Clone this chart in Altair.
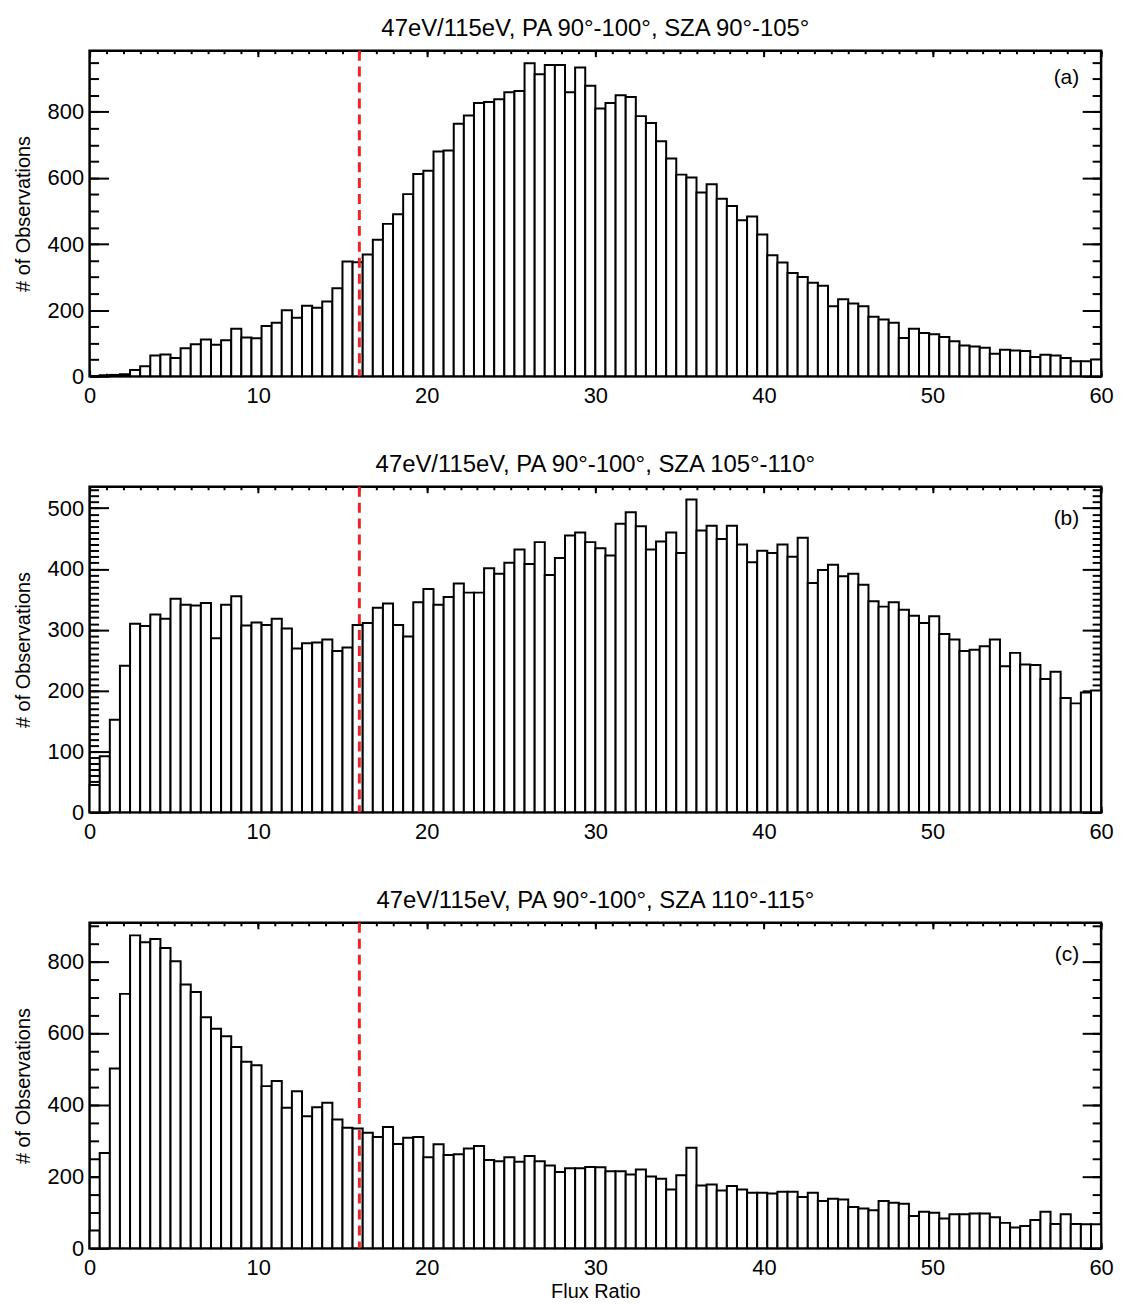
import altair as alt
import numpy as np
import pandas as pd

# ---------------- data ----------------
BIN_WIDTH = 0.6
N_BINS = 100
THRESHOLD = [16]

counts_a = [0, 3, 4, 6, 19, 30, 63, 66, 55, 85,
            97, 111, 95, 109, 144, 117, 115, 152, 162, 200,
            177, 213, 207, 226, 266, 347, 345, 368, 413, 461,
            490, 551, 612, 622, 680, 683, 764, 789, 827, 830,
            838, 859, 863, 947, 914, 942, 942, 859, 934, 879,
            810, 827, 850, 845, 787, 766, 711, 659, 610, 601,
            556, 581, 537, 515, 472, 483, 429, 366, 344, 312,
            300, 283, 274, 212, 233, 220, 212, 180, 172, 162,
            116, 144, 131, 127, 119, 106, 93, 90, 86, 68,
            80, 78, 76, 58, 65, 63, 55, 45, 45, 51]

counts_b = [45, 92, 152, 241, 310, 306, 325, 318, 351, 341,
            340, 344, 286, 341, 355, 307, 312, 308, 318, 302,
            269, 278, 279, 284, 265, 271, 308, 311, 336, 343,
            308, 289, 345, 367, 341, 354, 376, 361, 361, 401,
            392, 410, 432, 408, 444, 390, 418, 455, 460, 444,
            434, 422, 474, 493, 470, 432, 445, 460, 426, 514,
            463, 471, 449, 471, 440, 411, 430, 426, 440, 420,
            451, 377, 398, 407, 388, 392, 374, 347, 338, 345,
            333, 323, 311, 322, 293, 284, 265, 267, 273, 284,
            240, 262, 243, 242, 219, 231, 188, 179, 197, 200]

counts_c = [50, 266, 501, 709, 872, 853, 862, 837, 800, 735,
            714, 644, 612, 591, 561, 520, 510, 452, 466, 392,
            438, 368, 393, 406, 359, 336, 334, 322, 310, 338,
            291, 308, 310, 254, 290, 260, 262, 278, 285, 246,
            243, 254, 241, 257, 243, 231, 213, 223, 223, 227,
            226, 215, 215, 206, 220, 200, 194, 164, 204, 280,
            175, 178, 161, 174, 164, 155, 155, 153, 158, 158,
            143, 155, 132, 138, 136, 115, 111, 106, 132, 127,
            124, 90, 102, 99, 83, 95, 95, 97, 97, 87,
            71, 58, 62, 79, 102, 68, 95, 68, 67, 67]

titles = ["47eV/115eV, PA 90°-100°, SZA 90°-105°",
          "47eV/115eV, PA 90°-100°, SZA 105°-110°",
          "47eV/115eV, PA 90°-100°, SZA 110°-115°"]
panel_labels = ["(a)", "(b)", "(c)"]
y_max = [985, 535, 907]
y_major = [[0, 200, 400, 600, 800],
           [0, 100, 200, 300, 400, 500],
           [0, 200, 400, 600, 800]]
y_minor_step = [50, 10, 50]
x_major = list(range(0, 61, 10))
x_minor = list(range(0, 61, 1))

# ---------------- styling ----------------
FONT = "Liberation Sans"
W, H = 1016, 327
Y_MAJ, Y_MIN, X_MAJ, X_MIN = 19, 9, 6, 3
label_y_pos = [27, 32, 32]


def tick_axis(orient, values, size, **kw):
    base = dict(orient=orient, values=values, tickSize=size, offset=-size,
                domain=False, grid=False, tickColor="black", tickWidth=2)
    if "labels" not in kw:
        base["labels"] = False
        base["title"] = None
    base.update(kw)
    return alt.Axis(**base)


def panel(counts, title, label, ymax, ymaj, ystep, label_y, show_xtitle):
    idx = np.arange(N_BINS)
    df = pd.DataFrame({"start": idx * BIN_WIDTH,
                       "end": (idx + 1) * BIN_WIDTH,
                       "count": counts})
    xs = alt.Scale(domain=[0, 60], nice=False, zero=False)
    ys = alt.Scale(domain=[0, ymax], nice=False)
    yminor = list(range(0, int(ymax) + 1, ystep))

    lab_kw = dict(labels=True, labelFont=FONT, labelFontSize=22,
                  labelColor="black", labelFlush=False)
    x_axis_main = tick_axis("bottom", x_major, X_MAJ, labelPadding=9,
                            title="Flux Ratio" if show_xtitle else None,
                            titleFont=FONT, titleFontSize=20,
                            titleFontWeight="normal", titleColor="black",
                            titlePadding=3, **lab_kw)
    y_axis_main = tick_axis("left", ymaj, Y_MAJ, labelPadding=6,
                            title="# of Observations", titleFont=FONT,
                            titleFontSize=20, titleFontWeight="normal",
                            titleColor="black", titlePadding=14, **lab_kw)

    bars = alt.Chart(df).mark_rect(fill="white", stroke="black",
                                   strokeWidth=2).encode(
        x=alt.X("start:Q", scale=xs, axis=x_axis_main),
        x2="end:Q",
        y=alt.Y("count:Q", scale=ys, axis=y_axis_main),
        y2=alt.datum(0),
    )

    def helper(xax, yax):
        return alt.Chart(df).mark_rect(opacity=0).encode(
            x=alt.X("start:Q", scale=xs, axis=xax),
            x2="end:Q",
            y=alt.Y("count:Q", scale=ys, axis=yax),
            y2=alt.datum(0),
        )

    h1 = helper(tick_axis("bottom", x_minor, X_MIN),
                tick_axis("left", yminor, Y_MIN))
    h2 = helper(tick_axis("top", x_major, X_MAJ),
                tick_axis("right", ymaj, Y_MAJ))
    h3 = helper(tick_axis("top", x_minor, X_MIN),
                tick_axis("right", yminor, Y_MIN))

    rule = alt.Chart(pd.DataFrame({"t": THRESHOLD})).mark_rule(
        color="#e8262a", strokeWidth=3, strokeDash=[10, 6]).encode(
        x=alt.X("t:Q", scale=xs, axis=None))

    txt = alt.Chart(pd.DataFrame({"lab": [label]})).mark_text(
        align="right", baseline="middle", font=FONT, fontSize=21,
        color="black").encode(
        x=alt.value(W - 22), y=alt.value(label_y), text="lab:N")

    return alt.layer(bars, h1, h2, h3, rule, txt).resolve_axis(
        x="independent", y="independent").properties(
        width=W, height=H,
        title=alt.TitleParams(title, font=FONT, fontSize=24,
                              fontWeight="normal", color="black",
                              offset=8, anchor="middle"))


panels = []
for i, cnt in enumerate([counts_a, counts_b, counts_c]):
    panels.append(panel(cnt, titles[i], panel_labels[i], y_max[i],
                        y_major[i], y_minor_step[i], label_y_pos[i],
                        i == 2))

chart = alt.vconcat(*panels, spacing=111, bounds="flush").properties(
    padding={"left": 12, "top": 13, "right": 10, "bottom": 4}
).configure(background="white").configure_view(
    stroke="black", strokeWidth=2.5)

chart.save("out.html", embed_options={"renderer": "svg", "actions": False})
